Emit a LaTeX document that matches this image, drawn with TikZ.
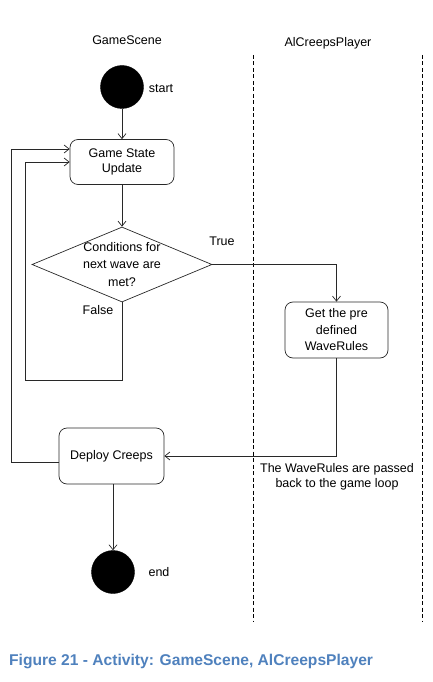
\documentclass[tikz,border=0pt]{standalone}
\usepackage{fontspec}
\setmainfont{Liberation Sans}
\usetikzlibrary{shapes.geometric,arrows.meta}
\definecolor{capblue}{RGB}{79,129,189}
\definecolor{ln}{RGB}{40,40,40}
\begin{document}
\begin{tikzpicture}[x=1pt,y=-1pt,
  every node/.style={font=\fontsize{12.5}{15}\selectfont},
  dot/.style={circle,fill=black,draw=black,minimum size=43pt,inner sep=0},
  act/.style={draw=ln,rounded corners=8pt,align=center,line width=0.7pt},
  arr/.style={draw=ln,line width=0.7pt,-{Straight Barb[length=5pt,width=8pt]}},
  ln/.style={draw=ln,line width=0.7pt},
  lane/.style={draw=black,line width=0.7pt,dash pattern=on 4pt off 2.5pt}]
\useasboundingbox (0,0) rectangle (432,682);
% lanes
\node (t1) at (127,40) {GameScene};
\node (t2) at (328,43) {AlCreepsPlayer};
\coordinate (l1a) at (253,55); \coordinate (l1b) at (253,622);
\coordinate (l2a) at (422,55); \coordinate (l2b) at (422,622);
\draw[lane] (l1a) -- (l1b);
\draw[lane] (l2a) -- (l2b);
% nodes
\node[dot] (start) at (122,87) {};
\node (startl) at (161,89) {start};
\node[act,minimum width=104pt,minimum height=45pt] (gsu) at (122,162) {Game State\\Update};
\node[diamond,draw=ln,line width=0.7pt,minimum width=180pt,minimum height=75pt,inner sep=0pt,
  label={[align=center,font=\fontsize{12.5}{17.5}\selectfont]center:Conditions for\\next wave are\\met?}] (d) at (122,264.5) {};
\node (true) at (222,241) {True};
\node (false) at (98,310) {False};
\node[act,minimum width=103pt,minimum height=56pt,font=\fontsize{12.5}{16.5}\selectfont] (wr) at (336.5,330) {Get the pre\\defined\\WaveRules};
\node[act,minimum width=105pt,minimum height=56pt] (dc) at (111.5,456) {Deploy Creeps};
\node[align=center] (note) at (337,477) {The WaveRules are passed\\back to the game loop};
\node[dot] (end) at (113,572) {};
\node (endl) at (159,572) {end};
\node[font=\bfseries\fontsize{15.6}{18}\selectfont,text=capblue,anchor=west,inner sep=0] (cap) at (9,661) {Figure 21 - Activity: GameScene, AlCreepsPlayer};
% connectors
\draw[arr] (start) -- (gsu);
\draw[arr] (gsu) -- (d);
\draw[arr] (d.east) -| (wr.north);
\draw[arr] (wr.south) |- (dc.east);
\coordinate (f1) at (122,380);
\coordinate (f2) at (25,380);
\draw[arr] (d.south) -- (f1) -- (f2) |- (gsu.west);
\coordinate (o1) at (11,462);
\coordinate (o2) at (11,149);
\draw[ln] (dc.west |- o1) -- (o1) -- (o2);
\draw[arr] (o2) -- (gsu.west |- o2);
\draw[arr] (dc.south -| end) -- (end);
\end{tikzpicture}
\end{document}
